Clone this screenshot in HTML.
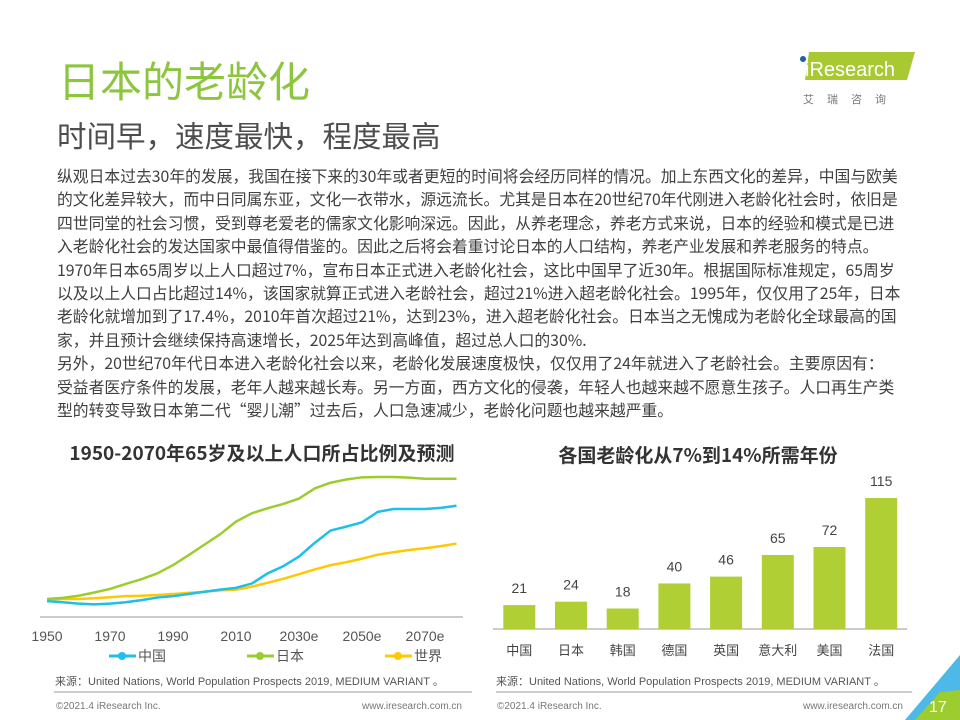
<!DOCTYPE html>
<html><head><meta charset="utf-8">
<style>
body{margin:0;width:960px;height:720px;overflow:hidden;background:#fff;font-family:"Liberation Sans","Noto Sans CJK SC",sans-serif;position:relative}
.abs{position:absolute}
.para div{height:23.4px;line-height:23.4px;white-space:nowrap}
</style></head><body>
<div class="abs" style="left:58px;top:52px;font-size:42px;color:#8cc63f;font-family:'Noto Sans CJK SC',sans-serif;line-height:56px">日本的老龄化</div>
<div class="abs" style="left:57px;top:113px;font-size:29.5px;color:#4d4d4d;font-family:'Noto Sans CJK SC',sans-serif;line-height:44px">时间早，速度最快，程度最高</div>
<div class="abs" style="left:795px;top:48px;width:130px;height:60px">
<svg width="130" height="60"><polygon points="14,4 120,4 112,32 10,32" fill="#a9c932"/><circle cx="8" cy="11" r="3" fill="#1f5fa8"/>
<text x="10" y="28" font-size="20" fill="#fff" font-family="Liberation Sans">iResearch</text>
<text x="8" y="55" font-size="11" fill="#777" letter-spacing="13" font-family="Noto Sans CJK SC">艾瑞咨询</text></svg></div>
<div class="abs para" style="left:57px;top:164px;font-size:15.8px;color:#404040;font-family:'Noto Sans CJK SC',sans-serif">
<div>纵观日本过去30年的发展，我国在接下来的30年或者更短的时间将会经历同样的情况。加上东西文化的差异，中国与欧美</div>
<div>的文化差异较大，而中日同属东亚，文化一衣带水，源远流长。尤其是日本在20世纪70年代刚进入老龄化社会时，依旧是</div>
<div>四世同堂的社会习惯，受到尊老爱老的儒家文化影响深远。因此，从养老理念，养老方式来说，日本的经验和模式是已进</div>
<div>入老龄化社会的发达国家中最值得借鉴的。因此之后将会着重讨论日本的人口结构，养老产业发展和养老服务的特点。</div>
<div>1970年日本65周岁以上人口超过7%，宣布日本正式进入老龄化社会，这比中国早了近30年。根据国际标准规定，65周岁</div>
<div>以及以上人口占比超过14%，该国家就算正式进入老龄社会，超过21%进入超老龄化社会。1995年，仅仅用了25年，日本</div>
<div>老龄化就增加到了17.4%，2010年首次超过21%，达到23%，进入超老龄化社会。日本当之无愧成为老龄化全球最高的国</div>
<div>家，并且预计会继续保持高速增长，2025年达到高峰值，超过总人口的30%.</div>
<div>另外，20世纪70年代日本进入老龄化社会以来，老龄化发展速度极快，仅仅用了24年就进入了老龄社会。主要原因有：</div>
<div>受益者医疗条件的发展，老年人越来越长寿。另一方面，西方文化的侵袭，年轻人也越来越不愿意生孩子。人口再生产类</div>
<div>型的转变导致日本第二代“婴儿潮”过去后，人口急速减少，老龄化问题也越来越严重。</div>
</div>
<svg class="abs" style="left:0;top:0" width="960" height="720" id="svg">
<text x="262" y="460" text-anchor="middle" font-size="19" font-weight="bold" fill="#333" font-family="Noto Sans CJK SC">1950-2070年65岁及以上人口所占比例及预测</text>
<line x1="40" y1="617" x2="463" y2="617" stroke="#999" stroke-width="1"/>
<text x="698" y="462" text-anchor="middle" font-size="19" font-weight="bold" fill="#333" font-family="Noto Sans CJK SC">各国老龄化从7%到14%所需年份</text>
<line x1="493" y1="629" x2="907" y2="629" stroke="#999" stroke-width="1"/>
<g font-size="14" fill="#555" font-family="Noto Sans CJK SC">
<line x1="109" y1="656" x2="136" y2="656" stroke="#1ebfe8" stroke-width="3"/><circle cx="122" cy="656" r="4" fill="#1ebfe8"/><text x="138" y="661">中国</text>
<line x1="247" y1="656" x2="274" y2="656" stroke="#9ccc2e" stroke-width="3"/><circle cx="260" cy="656" r="4" fill="#9ccc2e"/><text x="276" y="661">日本</text>
<line x1="385" y1="656" x2="412" y2="656" stroke="#ffc800" stroke-width="3"/><circle cx="398" cy="656" r="4" fill="#ffc800"/><text x="414" y="661">世界</text>
</g>
<g font-size="11" fill="#555">
<text x="55" y="685">来源：United Nations, World  Population Prospects 2019, MEDIUM VARIANT 。</text>
<text x="496" y="685">来源：United Nations, World  Population Prospects 2019, MEDIUM VARIANT 。</text>
</g>
<line x1="54" y1="692" x2="472" y2="692" stroke="#bbb" stroke-width="1.5"/>
<line x1="496" y1="692" x2="912" y2="692" stroke="#bbb" stroke-width="1.5"/>
<g font-size="10" fill="#777">
<text x="56" y="709">©2021.4 iResearch Inc.</text><text x="462" y="709" text-anchor="end">www.iresearch.com.cn</text>
<text x="497" y="709">©2021.4 iResearch Inc.</text><text x="903" y="709" text-anchor="end">www.iresearch.com.cn</text>
</g>
<polygon points="960,655 960,720 905,720" fill="#4cb9e8"/>
<polygon points="960,690 960,720 915,720 940,692" fill="#9ccc2e"/>
<text x="929" y="712" font-size="16" fill="#fff">17</text>
</svg>
<script>
const years=["1950","1970","1990","2010","2030e","2050e","2070e"];
const yearIdx=[0,4,8,12,16,20,24];
const japan=[5.0,5.3,5.9,6.8,7.8,9.2,10.5,12.1,14.4,17.2,20.1,23.0,26.5,28.8,30.2,31.4,32.9,35.7,37.3,38.2,38.8,38.9,38.9,38.7,38.4,38.4,38.4];
const china=[4.4,4.1,3.7,3.5,3.7,4.1,4.7,5.4,5.8,6.4,7.0,7.6,8.1,9.3,12.1,14.1,16.8,20.6,24.0,25.1,26.3,29.2,30.0,30.0,30.0,30.3,30.9];
const world=[4.9,5.0,5.0,5.2,5.5,5.8,5.9,6.1,6.4,6.7,7.0,7.4,7.6,8.4,9.5,10.6,11.9,13.2,14.4,15.2,16.2,17.3,18.0,18.6,19.1,19.7,20.4];
const countries=["中国","日本","韩国","德国","英国","意大利","美国","法国"];
const yearsNeeded=[21,24,18,40,46,65,72,115];
const svg=document.getElementById('svg');const NS="http://www.w3.org/2000/svg";
const lx=i=>47+i*15.75, ly=v=>617-v*3.6;
const bx=i=>519.3+i*51.7, by=v=>629-v*1.139;
function mk(t,a){const e=document.createElementNS(NS,t);for(const k in a)e.setAttribute(k,a[k]);svg.appendChild(e);return e;}
years.forEach((y,i)=>{const t=mk('text',{x:lx(yearIdx[i]),y:641,'text-anchor':'middle','font-size':14,fill:'#555'});t.textContent=y;

});
[[world,'#ffc800','world-line'],[china,'#1ebfe8','china-line'],[japan,'#9ccc2e','japan-line']].forEach(([d,c,n])=>{
const p=mk('polyline',{points:d.map((v,i)=>lx(i)+','+ly(v)).join(' '),fill:'none',stroke:c,'stroke-width':2.5,'stroke-linejoin':'round'});

});
yearsNeeded.forEach((v,i)=>{
const r=mk('rect',{x:bx(i)-16,y:by(v),width:32,height:629-by(v),fill:'#b0cf35'});


const t=mk('text',{x:bx(i),y:by(v)-12,'text-anchor':'middle','font-size':14,fill:'#444'});t.textContent=v;


const c=mk('text',{x:bx(i),y:655,'text-anchor':'middle','font-size':13,fill:'#444','font-family':'Noto Sans CJK SC'});c.textContent=countries[i];

});
</script>
</body></html>
